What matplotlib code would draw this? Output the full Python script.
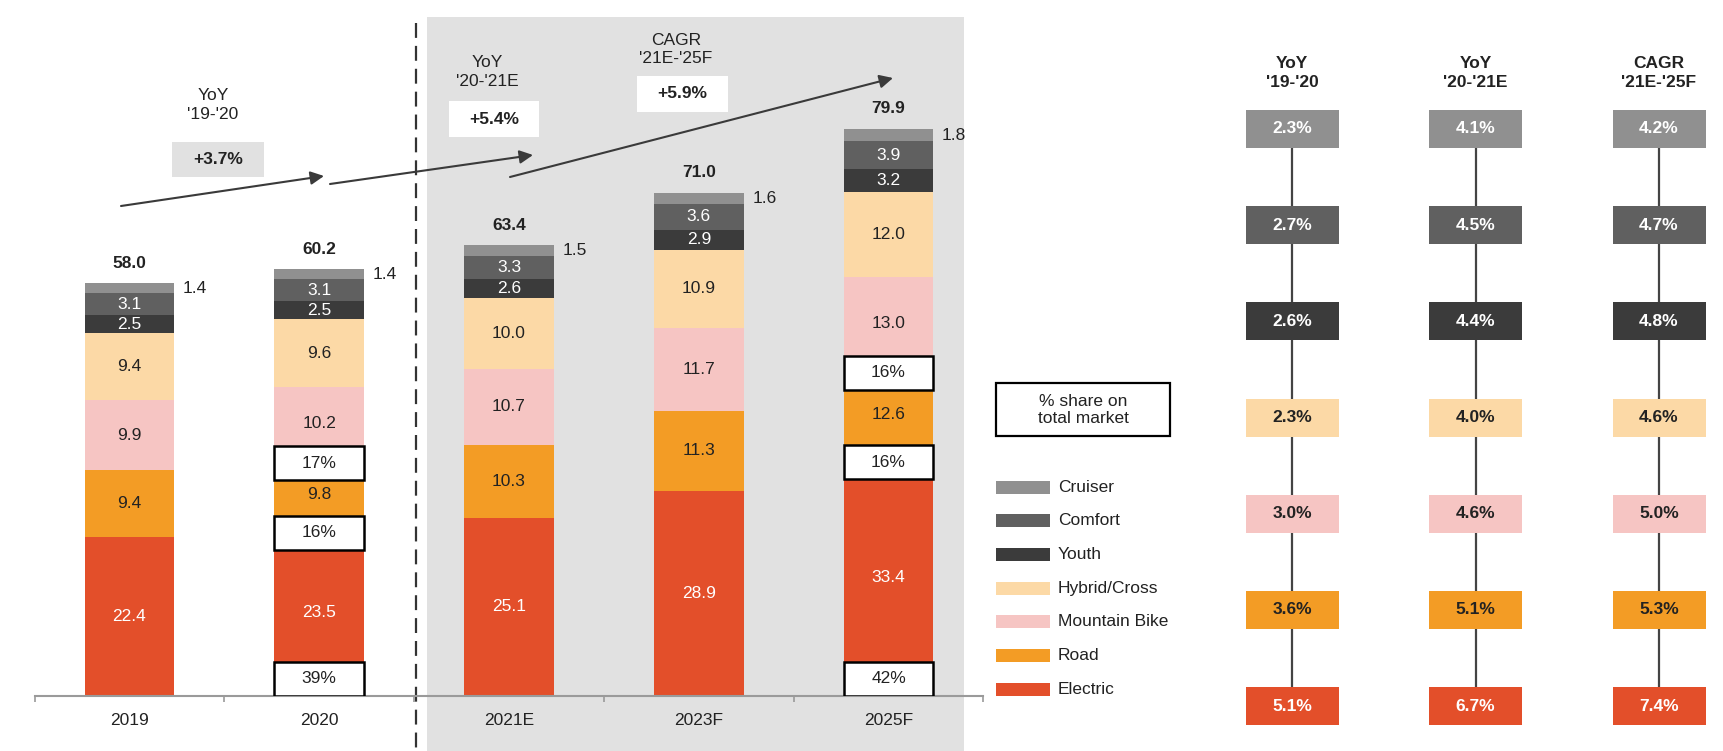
import matplotlib
matplotlib.use('Agg')
import matplotlib.pyplot as plt
from matplotlib.patches import Rectangle
import numpy as np

plt.rcParams['font.family'] = ['Liberation Sans', 'DejaVu Sans']

# ---------------- data ----------------
years = ['2019', '2020', '2021E', '2023F', '2025F']
segment_names = ['Electric', 'Road', 'Mountain Bike', 'Hybrid/Cross', 'Youth', 'Comfort', 'Cruiser']
electric = [22.4, 23.5, 25.1, 28.9, 33.4]
road = [9.4, 9.8, 10.3, 11.3, 12.6]
mountain = [9.9, 10.2, 10.7, 11.7, 13.0]
hybrid = [9.4, 9.6, 10.0, 10.9, 12.0]
youth = [2.5, 2.5, 2.6, 2.9, 3.2]
comfort = [3.1, 3.1, 3.3, 3.6, 3.9]
cruiser = [1.4, 1.4, 1.5, 1.6, 1.8]
totals = [58.0, 60.2, 63.4, 71.0, 79.9]

share_years = ['2020', '2025F']
share_electric = ['39%', '42%']
share_road = ['16%', '16%']
share_mountain = ['17%', '16%']

total_growth_headers = ["YoY\n'19-'20", "YoY\n'20-'21E", "CAGR\n'21E-'25F"]
total_growth_values = ['+3.7%', '+5.4%', '+5.9%']

growth_headers = ["YoY\n'19-'20", "YoY\n'20-'21E", "CAGR\n'21E-'25F"]
growth_rows = ['Cruiser', 'Comfort', 'Youth', 'Hybrid/Cross', 'Mountain Bike', 'Road', 'Electric']
yoy_19_20 = [2.3, 2.7, 2.6, 2.3, 3.0, 3.6, 5.1]
yoy_20_21 = [4.1, 4.5, 4.4, 4.0, 4.6, 5.1, 6.7]
cagr_21_25 = [4.2, 4.7, 4.8, 4.6, 5.0, 5.3, 7.4]

# ---------------- style ----------------
colors = {
    'Cruiser': '#909090',
    'Comfort': '#606060',
    'Youth': '#3b3b3b',
    'Hybrid/Cross': '#fcd9a6',
    'Mountain Bike': '#f6c5c3',
    'Road': '#f39c25',
    'Electric': '#e34f2a',
}
text_on = {
    'Cruiser': 'white', 'Comfort': 'white', 'Youth': 'white',
    'Hybrid/Cross': '#222222', 'Mountain Bike': '#222222', 'Road': '#222222',
    'Electric': 'white',
}
DARK = '#222222'
SHADE = '#e1e1e1'
FS = 12.5

W, H = 1723, 751
fig = plt.figure(figsize=(W / 100, H / 100), dpi=100)

# ---------------- background layer (pixel coords) ----------------
bg = fig.add_axes([0, 0, 1, 1], zorder=0)
bg.set_xlim(0, W)
bg.set_ylim(H, 0)
bg.axis('off')

bg.add_patch(Rectangle((427, 17), 964 - 427, H - 17, color=SHADE, lw=0))
bg.plot([416, 416], [23, H], color='#333333', lw=1.6, dashes=(6.7, 3.6))

# growth arrows
arrows = [((121, 206), (324, 176)), ((330, 184), (533, 155)), ((510, 177), (893, 78))]
for (s, e) in arrows:
    bg.annotate('', xy=e, xytext=s,
                arrowprops=dict(arrowstyle='-|>', color='#3a3a3a', lw=1.5,
                                mutation_scale=20, shrinkA=0, shrinkB=0))

# growth labels over the bars
label_pos = [(213, 105), (487, 72), (676, 49.5)]
box_rects = [(172, 142, 92, 35), (449, 101, 90, 36), (637, 76, 91, 36)]
box_faces = [SHADE, 'white', 'white']
for hdr, val, (lx, ly), (rx, ry, rw, rh), fc in zip(total_growth_headers, total_growth_values,
                                                     label_pos, box_rects, box_faces):
    bg.text(lx, ly, hdr, ha='center', va='center', fontsize=FS, color=DARK, linespacing=1.3)
    bg.add_patch(Rectangle((rx, ry), rw, rh, color=fc, lw=0))
    bg.text(rx + rw / 2, ry + rh / 2, val, ha='center', va='center', fontsize=FS,
            fontweight='bold', color=DARK)

# legend
bg.add_patch(Rectangle((996, 383), 174, 53, facecolor='white', edgecolor='black', lw=1.6))
bg.text(1083, 410, '% share on\ntotal market', ha='center', va='center', fontsize=FS,
        color=DARK, linespacing=1.2)
for k, name in enumerate(growth_rows):
    yc = 487 + k * 33.7
    bg.add_patch(Rectangle((996, yc - 6.5), 54, 13, color=colors[name], lw=0))
    bg.text(1058, yc, name, ha='left', va='center', fontsize=FS, color=DARK)

# ---------------- stacked bars ----------------
ppu = 7.1  # pixels per unit
bx_left, bx_right = 34.6, 983.4
bx = fig.add_axes([bx_left / W, (H - 696) / H, (bx_right - bx_left) / W, 696 / H], zorder=1)
bx.patch.set_alpha(0)
bx.set_xlim(-0.5, 4.5)
bx.set_ylim(0, 696 / ppu)

series = [electric, road, mountain, hybrid, youth, comfort, cruiser]
x = np.arange(len(years))
bw = 0.474
bottom = np.zeros(len(years))
bottoms = {}
for name, vals in zip(segment_names, series):
    vals = np.array(vals)
    bx.bar(x, vals, bottom=bottom, width=bw, color=colors[name], lw=0, zorder=2)
    bottoms[name] = bottom.copy()
    for i, v in enumerate(vals):
        yc = bottom[i] + v / 2
        if name == 'Cruiser':
            bx.text(i + bw / 2 + 0.045, yc, f'{v:.1f}', ha='left', va='center',
                    fontsize=FS, color=DARK, zorder=4)
        else:
            bx.text(i, yc, f'{v:.1f}', ha='center', va='center', fontsize=FS,
                    color=text_on[name], zorder=4)
    bottom = bottom + vals

for i, t in enumerate(totals):
    bx.annotate(f'{t:.1f}', (i, bottom[i]), xytext=(0, 14.5), textcoords='offset points',
                ha='center', va='center', fontsize=FS, fontweight='bold', color=DARK)

# share-of-market boxes
bh = 4.8
for yr, se, sr, sm in zip(share_years, share_electric, share_road, share_mountain):
    i = years.index(yr)
    placements = [(0.0, se),
                  (bottoms['Road'][i] - 0.5 - bh / 2, sr),
                  (bottoms['Mountain Bike'][i] - 0.5 - bh / 2, sm)]
    for y0, lab in placements:
        bx.add_patch(Rectangle((i - bw / 2, y0), bw, bh, facecolor='white',
                               edgecolor='black', lw=1.8, zorder=3))
        bx.text(i, y0 + bh / 2, lab, ha='center', va='center', fontsize=FS,
                color=DARK, zorder=4)

for side in ['top', 'left', 'right']:
    bx.spines[side].set_visible(False)
bx.spines['bottom'].set_color('#9a9a9a')
bx.spines['bottom'].set_linewidth(1.5)
bx.set_yticks([])
bx.set_xticks(x)
bx.set_xticklabels(years)
bx.set_xticks(np.arange(-0.5, 5.0, 1.0), minor=True)
bx.tick_params(axis='x', which='major', length=0, pad=12, labelsize=FS, labelcolor=DARK)
bx.tick_params(axis='x', which='minor', length=4.5, width=1.2, color='#9a9a9a', direction='out')

# ---------------- growth panel ----------------
row_top, row_step = 129, 96.17
col0, col_step = 1292, 183.5
rp_left = 1200
rp = fig.add_axes([rp_left / W, 0, (W - rp_left) / W, 1], zorder=1)
rp.patch.set_alpha(0)
rp.set_xlim((rp_left - col0) / col_step, (W - col0) / col_step)
rp.set_ylim((H - row_top) / row_step, (0 - row_top) / row_step)
rp.axis('off')

gw, gh = 93 / col_step, 38 / row_step
for j, (hdr, vals) in enumerate(zip(growth_headers, [yoy_19_20, yoy_20_21, cagr_21_25])):
    rp.text(j, (73 - row_top) / row_step, hdr, ha='center', va='center', fontsize=FS,
            fontweight='bold', color=DARK, linespacing=1.3)
    rp.plot([j, j], [0, len(growth_rows) - 1], color='#444444', lw=1.6, zorder=1)
    for i, (name, v) in enumerate(zip(growth_rows, vals)):
        rp.add_patch(Rectangle((j - gw / 2, i - gh / 2), gw, gh, color=colors[name], lw=0, zorder=2))
        rp.text(j, i, f'{v:.1f}%', ha='center', va='center', fontsize=FS, fontweight='bold',
                color=text_on[name], zorder=3)

fig.savefig('out.png', dpi=100)
